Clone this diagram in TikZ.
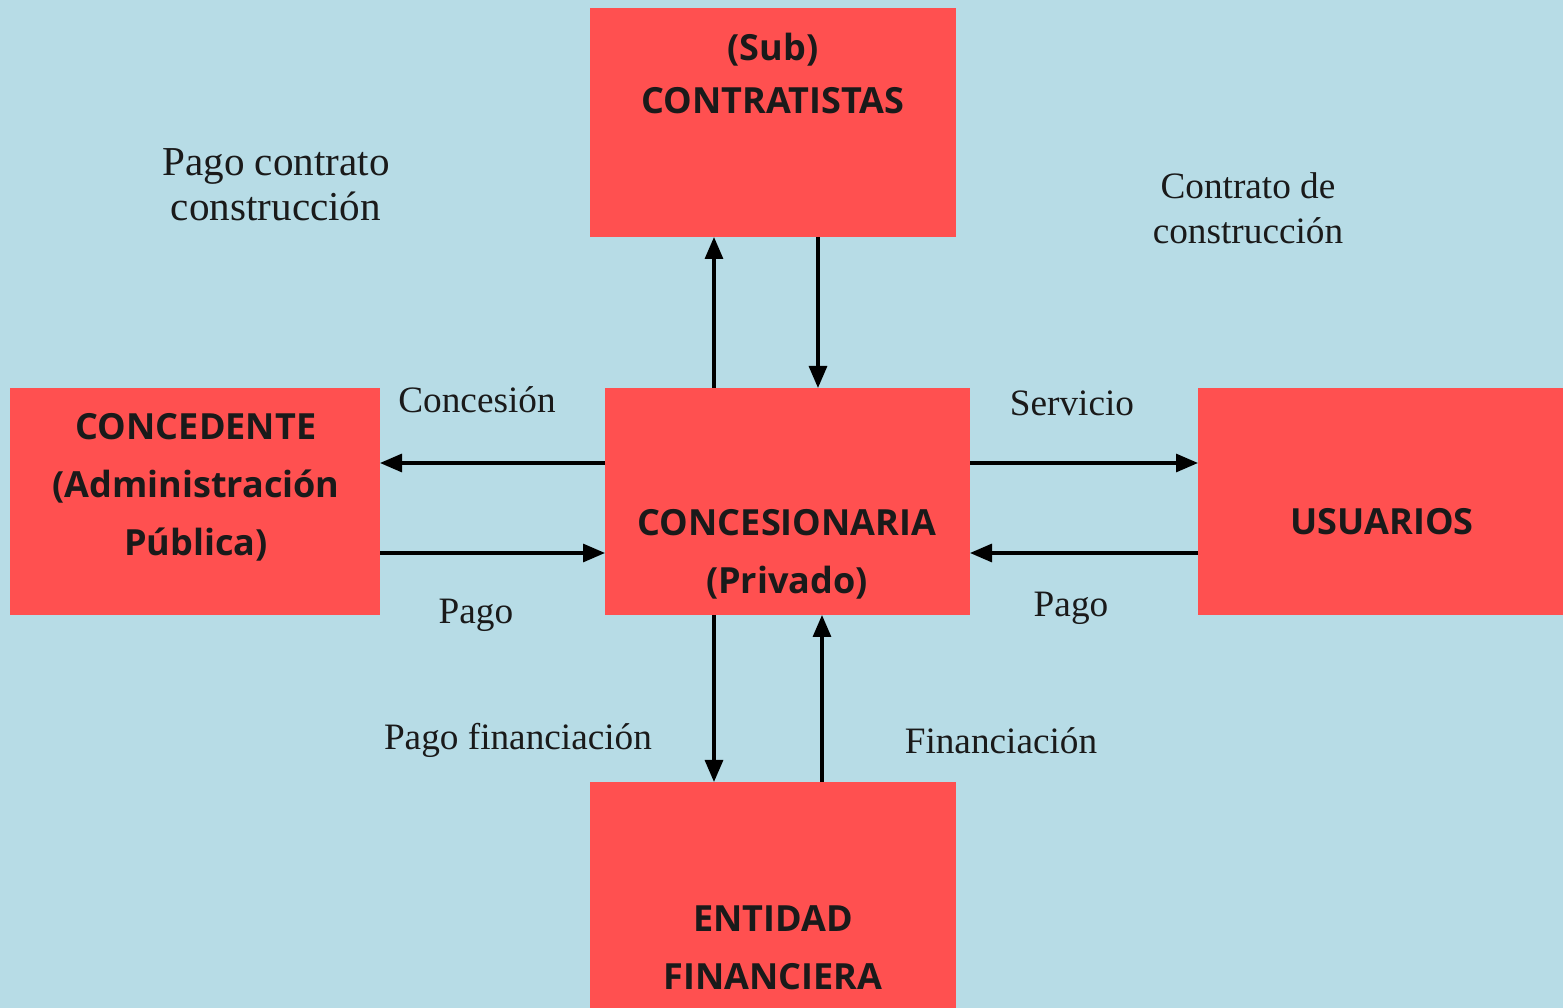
\documentclass[tikz,border=0pt]{standalone}
\usepackage{fontspec}
\setmainfont{Liberation Serif}
\newfontfamily\bxfont{Open Sans}
\usetikzlibrary{arrows.meta}
\definecolor{bgblue}{HTML}{B7DCE6}
\definecolor{boxred}{HTML}{FF5050}
\definecolor{txtdark}{HTML}{1A1A1A}
\begin{document}
\begin{tikzpicture}[
  box/.style={fill=boxred, draw=none, inner sep=0pt, outer sep=0pt, anchor=north west},
  btxt/.style={font=\bxfont\bfseries\fontsize{10.25pt}{16.5pt}\selectfont, align=center, text=txtdark, inner sep=0pt},
  lbl/.style={font=\fontsize{10.6pt}{12.8pt}\selectfont, align=center, text=txtdark, inner sep=0pt},
  arr/.style={draw=black, line width=0.9pt, -{Triangle[length=0.22cm,width=0.18cm]}}
]
\fill[bgblue] (0,0) rectangle (15.63,-10.08);
\useasboundingbox (0,0) rectangle (15.63,-10.08);

% boxes
\node[box, minimum width=3.66cm, minimum height=2.29cm] (sc) at (5.90,-0.08) {};
\node[box, minimum width=3.70cm, minimum height=2.27cm] (cd) at (0.10,-3.88) {};
\node[box, minimum width=3.65cm, minimum height=2.27cm] (cn) at (6.05,-3.88) {};
\node[box, minimum width=3.65cm, minimum height=2.27cm] (us) at (11.98,-3.88) {};
\node[box, minimum width=3.66cm, minimum height=2.26cm] (ef) at (5.90,-7.82) {};

% box texts
\node[btxt] (tsc) at (7.73,-0.735) {(Sub)\\[-1.5pt]CONTRATISTAS};
\node[btxt] (tcd) at (1.96,-4.87) {CONCEDENTE\\(Administración\\Pública)};
\node[btxt] (tcn) at (7.87,-5.54) {CONCESIONARIA\\(Privado)};
\node[btxt] (tus) at (13.82,-5.22) {USUARIOS};
\node[btxt] (tef) at (7.73,-9.475) {ENTIDAD\\FINANCIERA};

% connectors
\draw[arr] (cn.north -| 7.14,0) -- (sc.south -| 7.14,0);
\draw[arr] (sc.south -| 8.18,0) -- (cn.north -| 8.18,0);
\draw[arr] (cn.west |- 0,-4.63) -- (cd.east |- 0,-4.63);
\draw[arr] (cd.east |- 0,-5.53) -- (cn.west |- 0,-5.53);
\draw[arr] (cn.east |- 0,-4.63) -- (us.west |- 0,-4.63);
\draw[arr] (us.west |- 0,-5.53) -- (cn.east |- 0,-5.53);
\draw[arr] (cn.south -| 7.14,0) -- (ef.north -| 7.14,0);
\draw[arr] (ef.north -| 8.22,0) -- (cn.south -| 8.22,0);

% labels
\node[lbl, font=\fontsize{11.7pt}{12.8pt}\selectfont] (l1) at (2.76,-1.85) {Pago contrato\\construcción};
\node[lbl] (l2) at (12.48,-2.08) {Contrato de\\construcción};
\node[lbl] (l3) at (4.77,-4.00) {Concesión};
\node[lbl] (l4) at (4.76,-6.15) {Pago};
\node[lbl] (l5) at (10.72,-4.03) {Servicio};
\node[lbl] (l6) at (10.71,-6.08) {Pago};
\node[lbl] (l7) at (5.18,-7.40) {Pago financiación};
\node[lbl] (l8) at (10.01,-7.41) {Financiación};
\end{tikzpicture}
\end{document}
